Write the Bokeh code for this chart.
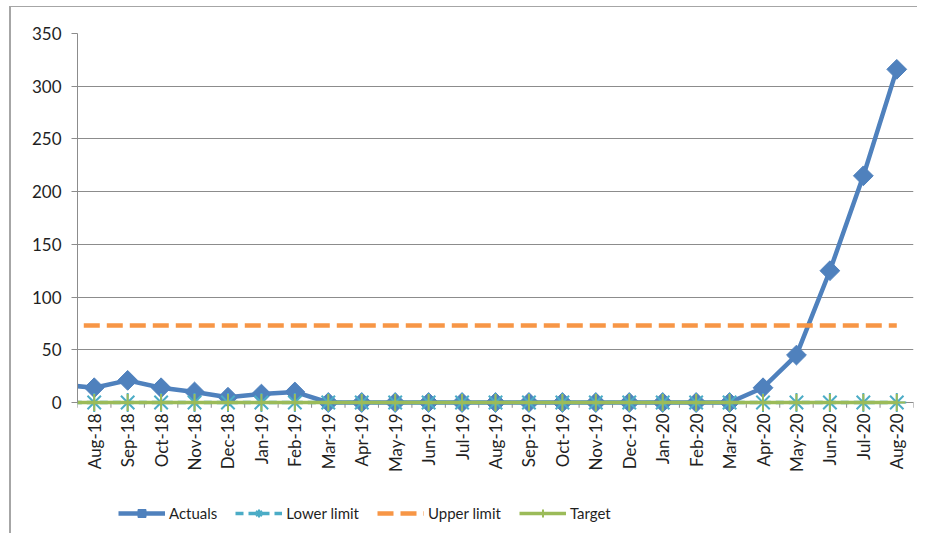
import numpy as np
from bokeh.plotting import figure
from bokeh.models import Range1d, FixedTicker, Span, Legend, LegendItem
from bokeh.core.properties import value
from bokeh.embed import file_html
from bokeh.resources import INLINE

# ---- data ----
months = ["Aug-18", "Sep-18", "Oct-18", "Nov-18", "Dec-18", "Jan-19", "Feb-19",
          "Mar-19", "Apr-19", "May-19", "Jun-19", "Jul-19", "Aug-19", "Sep-19",
          "Oct-19", "Nov-19", "Dec-19", "Jan-20", "Feb-20", "Mar-20", "Apr-20",
          "May-20", "Jun-20", "Jul-20", "Aug-20"]
actuals = [14, 21, 14, 10, 5, 8, 10, 0, 0, 0, 0, 0, 0, 0, 0, 0, 0, 0, 0, 0,
           14, 45, 125, 215, 316]
lower_limit = [0, 0, 0, 0, 0, 0, 0, 0, 0, 0, 0, 0, 0, 0, 0, 0, 0, 0, 0, 0,
               0, 0, 0, 0, 0]
upper_limit = [73, 73, 73, 73, 73, 73, 73, 73, 73, 73, 73, 73, 73, 73, 73, 73,
               73, 73, 73, 73, 73, 73, 73, 73, 73]
target = [0, 0, 0, 0, 0, 0, 0, 0, 0, 0, 0, 0, 0, 0, 0, 0, 0, 0, 0, 0,
          0, 0, 0, 0, 0]
# value of the month before the first shown category (line runs in from the axis)
prev_actual = 17
prev_lower = 0
prev_upper = 73
prev_target = 0
y_ticks = [0, 50, 100, 150, 200, 250, 300, 350]

# ---- styling / layout ----
C_ACT = "#4F81BD"
C_LOW = "#4BACC6"
C_UP = "#F79646"
C_TGT = "#9BBB59"
GRID = "#8C8C8C"
TXT = "#1F1F1F"
FONT = "Lato"
Y_MIN = -121.4   # frame extends below zero to hold category labels and legend

n = len(months)
xs = list(range(n))
xs_full = [-1] + xs

p = figure(
    width=908, height=527,
    x_range=Range1d(-0.5, n - 0.5),
    y_range=Range1d(Y_MIN, 350),
    min_border_left=66, min_border_top=26, min_border_right=6, min_border_bottom=4,
    output_backend="svg", toolbar_location=None,
    background_fill_color="white", border_fill_color=None,
)
p.outline_line_color = None
p.styles = {"margin-left": "11px", "margin-top": "7px",
            "box-shadow": "-2px -1px 0px 0px #A6A6A6"}

# y axis
p.yaxis.ticker = FixedTicker(ticks=y_ticks, minor_ticks=[])
p.yaxis.bounds = (0, 350)
p.yaxis.axis_line_color = GRID
p.yaxis.major_tick_line_color = GRID
p.yaxis.major_tick_out = 6
p.yaxis.major_tick_in = 0
p.yaxis.minor_tick_line_color = None
p.yaxis.major_label_standoff = 10
p.yaxis.major_label_text_font = FONT
p.yaxis.major_label_text_font_size = "17px"
p.yaxis.major_label_text_color = TXT
p.ygrid.ticker = FixedTicker(ticks=y_ticks)
p.ygrid.grid_line_color = GRID
p.ygrid.grid_line_width = 1
p.xgrid.grid_line_color = None
p.xaxis.visible = False

# category axis: line at zero, boundary tick marks, rotated labels
p.add_layout(Span(location=0, dimension="width", line_color=GRID, line_width=1,
                  level="underlay"))
bounds = [i - 0.5 for i in range(n + 1)]
p.segment(x0=bounds, x1=bounds, y0=[0] * len(bounds), y1=[-5] * len(bounds),
          line_color=GRID, line_width=1)
p.text(x=xs, y=[0] * n, text=months, angle=np.pi / 2, y_offset=11,
       text_align="right", text_baseline="middle",
       text_font=value(FONT), text_font_size=value("17px"), text_color=TXT)

# series
l_act = p.line(xs_full, [prev_actual] + actuals, line_color=C_ACT, line_width=4.5,
               line_join="round")
s_act = p.scatter(xs, actuals, marker="square", angle=np.pi / 4, size=14,
                  fill_color=C_ACT, line_color=C_ACT)

l_low = p.line(xs_full, [prev_lower] + lower_limit, line_color=C_LOW, line_width=3.5,
               line_dash="8 5")
s_low = p.scatter(xs, lower_limit, marker="asterisk", size=19, line_color=C_LOW,
                  line_width=2)

l_up = p.line(xs_full, [prev_upper] + upper_limit, line_color=C_UP, line_width=4.5,
              line_dash="16 7")

l_tgt = p.line(xs_full, [prev_target] + target, line_color=C_TGT, line_width=3.5)
s_tgt = p.scatter(xs, target, marker="cross", size=17, line_color=C_TGT,
                  line_width=2)

legend = Legend(
    items=[
        LegendItem(label="Actuals", renderers=[l_act, s_act]),
        LegendItem(label="Lower limit", renderers=[l_low, s_low]),
        LegendItem(label="Upper limit", renderers=[l_up]),
        LegendItem(label="Target", renderers=[l_tgt, s_tgt]),
    ],
    orientation="horizontal",
    location=(41, 7),
    glyph_width=47, glyph_height=20,
    label_standoff=4, spacing=18, padding=0, margin=0,
    border_line_color=None, background_fill_alpha=0,
    label_text_font=FONT, label_text_font_size="15px", label_text_color=TXT,
)
p.add_layout(legend)

open("out.html", "w").write(file_html(p, INLINE))
